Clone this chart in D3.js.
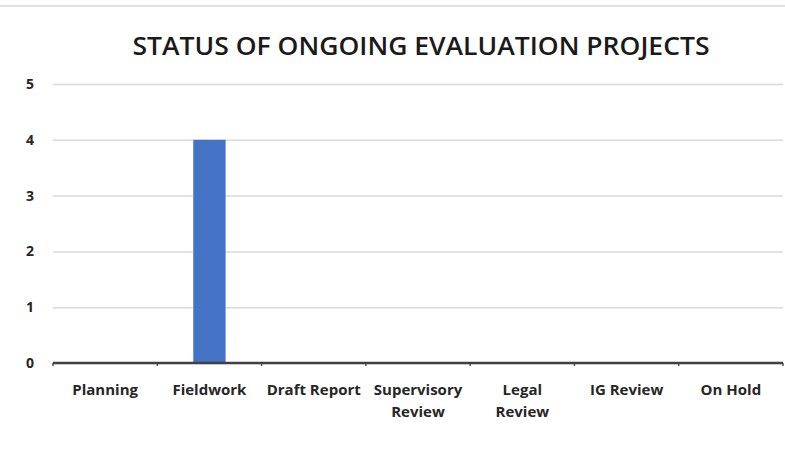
<!DOCTYPE html>
<html>
<head>
<meta charset="utf-8">
<script src="https://cdn.jsdelivr.net/npm/d3@7"></script>
<style>
  body { margin: 0; background: #fff; }
  svg { display: block; }
  text { font-family: 'Open Sans', 'Noto Sans', sans-serif; font-weight: bold; fill: #262626; }
</style>
</head>
<body>
<div id="chart"></div>
<script>
const categories = ['Planning', 'Fieldwork', 'Draft Report', 'Supervisory Review', 'Legal Review', 'IG Review', 'On Hold'];
const labelLines = [['Planning'], ['Fieldwork'], ['Draft Report'], ['Supervisory', 'Review'], ['Legal', 'Review'], ['IG Review'], ['On Hold']];
const counts = [0, 4, 0, 0, 0, 0, 0];
const yTicks = [0, 1, 2, 3, 4, 5];
const title = 'STATUS OF ONGOING EVALUATION PROJECTS';

const width = 785, height = 454;
const margin = { top: 84, right: 2, bottom: 91, left: 53 };
const innerW = width - margin.left - margin.right;
const innerH = height - margin.top - margin.bottom;

const svg = d3.select('#chart').append('svg')
  .attr('width', width)
  .attr('height', height);

// faint frame line at the top
svg.append('line')
  .attr('x1', 0).attr('x2', width)
  .attr('y1', 6).attr('y2', 6)
  .attr('stroke', '#e2e2e2')
  .attr('stroke-width', 2);

svg.append('text')
  .attr('x', 421)
  .attr('y', 55)
  .attr('text-anchor', 'middle')
  .attr('font-size', 25)
  .attr('textLength', 577)
  .attr('lengthAdjust', 'spacingAndGlyphs')
  .style('fill', '#1a1a1a')
  .style('font-weight', 600)
  .text(title);

const chart = svg.append('g')
  .attr('transform', 'translate(' + margin.left + ',' + margin.top + ')');

const x = d3.scaleBand().domain(categories).range([0, innerW]).paddingInner(0.69).paddingOuter(0.345);
const xb = d3.scaleBand().domain(categories).range([0, innerW]);
const y = d3.scaleLinear().domain([0, 5]).range([innerH, 0]);

// gridlines
chart.append('g')
  .attr('class', 'y grid')
  .call(d3.axisLeft(y).tickValues(yTicks).tickSize(-innerW).tickFormat(''))
  .call(g => g.select('.domain').remove())
  .call(g => g.selectAll('line').attr('stroke', '#d9d9d9').attr('stroke-width', 1.5));

// y labels
chart.append('g')
  .call(d3.axisLeft(y).tickValues(yTicks).tickSize(0).tickPadding(19).tickFormat(d3.format('d')))
  .call(g => g.select('.domain').remove())
  .call(g => g.selectAll('text').attr('font-size', 14).style('font-weight', 'bold').style('fill', '#262626').style('font-family', "'Open Sans', sans-serif"));

// bars
chart.selectAll('rect.bar')
  .data(counts)
  .enter()
  .append('rect')
  .attr('class', 'bar')
  .attr('x', (d, i) => x(categories[i]))
  .attr('width', x.bandwidth())
  .attr('y', d => y(d))
  .attr('height', d => innerH - y(d))
  .attr('fill', '#4472c4');

// baseline and boundary ticks
const boundaries = categories.map(c => xb(c)).concat([innerW]);
chart.selectAll('line.tick-mark')
  .data(boundaries)
  .enter()
  .append('line')
  .attr('class', 'tick-mark')
  .attr('x1', d => d).attr('x2', d => d)
  .attr('y1', innerH).attr('y2', innerH + 3)
  .attr('stroke', '#595959')
  .attr('stroke-width', 1.5);

chart.append('line')
  .attr('x1', 0).attr('x2', innerW)
  .attr('y1', innerH).attr('y2', innerH)
  .attr('stroke', '#404040')
  .attr('stroke-width', 2.5);

// category labels
const lbl = chart.selectAll('text.cat')
  .data(labelLines)
  .enter()
  .append('text')
  .attr('class', 'cat')
  .attr('text-anchor', 'middle')
  .attr('font-size', 15)
  .attr('transform', (d, i) => 'translate(' + (xb(categories[i]) + xb.bandwidth() / 2) + ',' + (innerH + 32) + ')');

lbl.selectAll('tspan')
  .data(d => d)
  .enter()
  .append('tspan')
  .attr('x', 0)
  .attr('dy', (d, i) => i === 0 ? 0 : 22)
  .text(d => d);
</script>
</body>
</html>
